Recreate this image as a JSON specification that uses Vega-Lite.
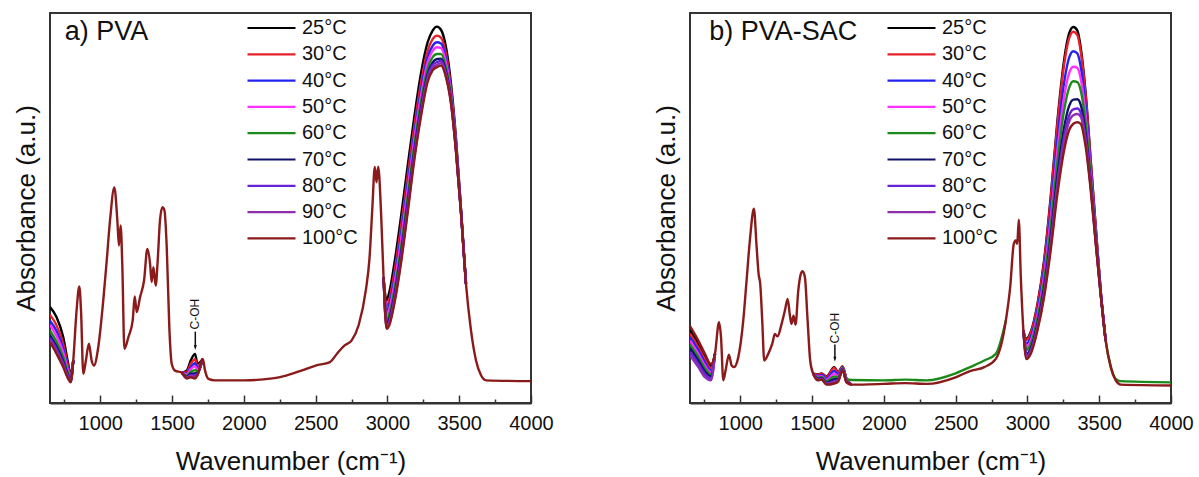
{
"$schema": "https://vega.github.io/schema/vega-lite/v6.json",
"background": "white",
"padding": {"left": 12, "top": 12, "right": 4, "bottom": 4},
"config": {
 "font": "Liberation Sans",
 "view": {"stroke": "#333333", "strokeWidth": 2},
 "concat": {"spacing": 97},
 "axis": {"labelFont": "Liberation Sans", "titleFont": "Liberation Sans", "labelFontSize": 20, "titleFontSize": 26, "titleFontWeight": "normal", "labelColor": "#111111", "titleColor": "#111111", "grid": false},
 "legend": {"labelFont": "Liberation Sans", "labelFontSize": 20, "labelColor": "#111111"}
},
"datasets": {
"a": [
{"t":25,"s":1,"w":650,"y":0.246},{"t":25,"s":1,"w":696,"y":0.220},{"t":25,"s":1,"w":742,"y":0.169},{"t":25,"s":1,"w":777,"y":0.100},{"t":25,"s":1,"w":794,"y":0.072},{"t":25,"s":1,"w":812,"y":0.109},
{"t":25,"s":2,"w":1567,"y":0.078},{"t":25,"s":2,"w":1602,"y":0.083},{"t":25,"s":2,"w":1630,"y":0.109},{"t":25,"s":2,"w":1660,"y":0.126},{"t":25,"s":2,"w":1677,"y":0.101},{"t":25,"s":2,"w":1714,"y":0.113},
{"t":25,"s":3,"w":2973,"y":0.323},{"t":25,"s":3,"w":2994,"y":0.263},{"t":25,"s":3,"w":3013,"y":0.284},{"t":25,"s":3,"w":3048,"y":0.357},{"t":25,"s":3,"w":3094,"y":0.476},{"t":25,"s":3,"w":3140,"y":0.605},{"t":25,"s":3,"w":3187,"y":0.733},{"t":25,"s":3,"w":3233,"y":0.844},{"t":25,"s":3,"w":3280,"y":0.925},{"t":25,"s":3,"w":3315,"y":0.955},{"t":25,"s":3,"w":3345,"y":0.965},{"t":25,"s":3,"w":3373,"y":0.957},{"t":25,"s":3,"w":3408,"y":0.912},{"t":25,"s":3,"w":3443,"y":0.818},{"t":25,"s":3,"w":3477,"y":0.682},{"t":25,"s":3,"w":3512,"y":0.500},{"t":25,"s":3,"w":3547,"y":0.306},
{"t":30,"s":1,"w":650,"y":0.226},{"t":30,"s":1,"w":696,"y":0.199},{"t":30,"s":1,"w":742,"y":0.152},{"t":30,"s":1,"w":777,"y":0.092},{"t":30,"s":1,"w":794,"y":0.068},{"t":30,"s":1,"w":812,"y":0.109},
{"t":30,"s":2,"w":1567,"y":0.078},{"t":30,"s":2,"w":1602,"y":0.079},{"t":30,"s":2,"w":1630,"y":0.100},{"t":30,"s":2,"w":1660,"y":0.112},{"t":30,"s":2,"w":1677,"y":0.094},{"t":30,"s":2,"w":1714,"y":0.113},
{"t":30,"s":3,"w":2973,"y":0.323},{"t":30,"s":3,"w":2994,"y":0.247},{"t":30,"s":3,"w":3013,"y":0.265},{"t":30,"s":3,"w":3048,"y":0.334},{"t":30,"s":3,"w":3094,"y":0.450},{"t":30,"s":3,"w":3140,"y":0.579},{"t":30,"s":3,"w":3187,"y":0.709},{"t":30,"s":3,"w":3233,"y":0.820},{"t":30,"s":3,"w":3280,"y":0.903},{"t":30,"s":3,"w":3315,"y":0.933},{"t":30,"s":3,"w":3345,"y":0.942},{"t":30,"s":3,"w":3373,"y":0.937},{"t":30,"s":3,"w":3408,"y":0.895},{"t":30,"s":3,"w":3443,"y":0.807},{"t":30,"s":3,"w":3477,"y":0.674},{"t":30,"s":3,"w":3512,"y":0.498},{"t":30,"s":3,"w":3547,"y":0.306},
{"t":40,"s":1,"w":650,"y":0.211},{"t":40,"s":1,"w":696,"y":0.184},{"t":40,"s":1,"w":742,"y":0.139},{"t":40,"s":1,"w":777,"y":0.085},{"t":40,"s":1,"w":794,"y":0.065},{"t":40,"s":1,"w":812,"y":0.109},
{"t":40,"s":2,"w":1567,"y":0.078},{"t":40,"s":2,"w":1602,"y":0.075},{"t":40,"s":2,"w":1630,"y":0.092},{"t":40,"s":2,"w":1660,"y":0.102},{"t":40,"s":2,"w":1677,"y":0.089},{"t":40,"s":2,"w":1714,"y":0.113},
{"t":40,"s":3,"w":2973,"y":0.323},{"t":40,"s":3,"w":2994,"y":0.235},{"t":40,"s":3,"w":3013,"y":0.251},{"t":40,"s":3,"w":3048,"y":0.317},{"t":40,"s":3,"w":3094,"y":0.430},{"t":40,"s":3,"w":3140,"y":0.559},{"t":40,"s":3,"w":3187,"y":0.690},{"t":40,"s":3,"w":3233,"y":0.801},{"t":40,"s":3,"w":3280,"y":0.886},{"t":40,"s":3,"w":3315,"y":0.916},{"t":40,"s":3,"w":3345,"y":0.925},{"t":40,"s":3,"w":3373,"y":0.922},{"t":40,"s":3,"w":3408,"y":0.882},{"t":40,"s":3,"w":3443,"y":0.798},{"t":40,"s":3,"w":3477,"y":0.669},{"t":40,"s":3,"w":3512,"y":0.496},{"t":40,"s":3,"w":3547,"y":0.306},
{"t":50,"s":1,"w":650,"y":0.200},{"t":50,"s":1,"w":696,"y":0.172},{"t":50,"s":1,"w":742,"y":0.130},{"t":50,"s":1,"w":777,"y":0.081},{"t":50,"s":1,"w":794,"y":0.062},{"t":50,"s":1,"w":812,"y":0.109},
{"t":50,"s":2,"w":1567,"y":0.078},{"t":50,"s":2,"w":1602,"y":0.073},{"t":50,"s":2,"w":1630,"y":0.087},{"t":50,"s":2,"w":1660,"y":0.094},{"t":50,"s":2,"w":1677,"y":0.086},{"t":50,"s":2,"w":1714,"y":0.113},
{"t":50,"s":3,"w":2973,"y":0.323},{"t":50,"s":3,"w":2994,"y":0.226},{"t":50,"s":3,"w":3013,"y":0.241},{"t":50,"s":3,"w":3048,"y":0.304},{"t":50,"s":3,"w":3094,"y":0.415},{"t":50,"s":3,"w":3140,"y":0.544},{"t":50,"s":3,"w":3187,"y":0.676},{"t":50,"s":3,"w":3233,"y":0.787},{"t":50,"s":3,"w":3280,"y":0.873},{"t":50,"s":3,"w":3315,"y":0.903},{"t":50,"s":3,"w":3345,"y":0.912},{"t":50,"s":3,"w":3373,"y":0.910},{"t":50,"s":3,"w":3408,"y":0.873},{"t":50,"s":3,"w":3443,"y":0.792},{"t":50,"s":3,"w":3477,"y":0.664},{"t":50,"s":3,"w":3512,"y":0.495},{"t":50,"s":3,"w":3547,"y":0.306},
{"t":60,"s":1,"w":650,"y":0.186},{"t":60,"s":1,"w":696,"y":0.157},{"t":60,"s":1,"w":742,"y":0.117},{"t":60,"s":1,"w":777,"y":0.075},{"t":60,"s":1,"w":794,"y":0.059},{"t":60,"s":1,"w":812,"y":0.109},
{"t":60,"s":2,"w":1567,"y":0.078},{"t":60,"s":2,"w":1602,"y":0.070},{"t":60,"s":2,"w":1630,"y":0.080},{"t":60,"s":2,"w":1660,"y":0.084},{"t":60,"s":2,"w":1677,"y":0.081},{"t":60,"s":2,"w":1714,"y":0.113},
{"t":60,"s":3,"w":2973,"y":0.323},{"t":60,"s":3,"w":2994,"y":0.214},{"t":60,"s":3,"w":3013,"y":0.227},{"t":60,"s":3,"w":3048,"y":0.288},{"t":60,"s":3,"w":3094,"y":0.396},{"t":60,"s":3,"w":3140,"y":0.525},{"t":60,"s":3,"w":3187,"y":0.659},{"t":60,"s":3,"w":3233,"y":0.770},{"t":60,"s":3,"w":3280,"y":0.857},{"t":60,"s":3,"w":3315,"y":0.887},{"t":60,"s":3,"w":3345,"y":0.895},{"t":60,"s":3,"w":3373,"y":0.895},{"t":60,"s":3,"w":3408,"y":0.860},{"t":60,"s":3,"w":3443,"y":0.784},{"t":60,"s":3,"w":3477,"y":0.659},{"t":60,"s":3,"w":3512,"y":0.493},{"t":60,"s":3,"w":3547,"y":0.306},
{"t":70,"s":1,"w":650,"y":0.174},{"t":70,"s":1,"w":696,"y":0.145},{"t":70,"s":1,"w":742,"y":0.107},{"t":70,"s":1,"w":777,"y":0.070},{"t":70,"s":1,"w":794,"y":0.057},{"t":70,"s":1,"w":812,"y":0.109},
{"t":70,"s":2,"w":1567,"y":0.078},{"t":70,"s":2,"w":1602,"y":0.067},{"t":70,"s":2,"w":1630,"y":0.075},{"t":70,"s":2,"w":1660,"y":0.076},{"t":70,"s":2,"w":1677,"y":0.077},{"t":70,"s":2,"w":1714,"y":0.113},
{"t":70,"s":3,"w":2973,"y":0.323},{"t":70,"s":3,"w":2994,"y":0.205},{"t":70,"s":3,"w":3013,"y":0.216},{"t":70,"s":3,"w":3048,"y":0.275},{"t":70,"s":3,"w":3094,"y":0.381},{"t":70,"s":3,"w":3140,"y":0.509},{"t":70,"s":3,"w":3187,"y":0.644},{"t":70,"s":3,"w":3233,"y":0.755},{"t":70,"s":3,"w":3280,"y":0.843},{"t":70,"s":3,"w":3315,"y":0.873},{"t":70,"s":3,"w":3345,"y":0.882},{"t":70,"s":3,"w":3373,"y":0.883},{"t":70,"s":3,"w":3408,"y":0.850},{"t":70,"s":3,"w":3443,"y":0.777},{"t":70,"s":3,"w":3477,"y":0.654},{"t":70,"s":3,"w":3512,"y":0.492},{"t":70,"s":3,"w":3547,"y":0.306},
{"t":80,"s":1,"w":650,"y":0.167},{"t":80,"s":1,"w":696,"y":0.138},{"t":80,"s":1,"w":742,"y":0.102},{"t":80,"s":1,"w":777,"y":0.067},{"t":80,"s":1,"w":794,"y":0.055},{"t":80,"s":1,"w":812,"y":0.109},
{"t":80,"s":2,"w":1567,"y":0.078},{"t":80,"s":2,"w":1602,"y":0.066},{"t":80,"s":2,"w":1630,"y":0.071},{"t":80,"s":2,"w":1660,"y":0.071},{"t":80,"s":2,"w":1677,"y":0.075},{"t":80,"s":2,"w":1714,"y":0.113},
{"t":80,"s":3,"w":2973,"y":0.323},{"t":80,"s":3,"w":2994,"y":0.199},{"t":80,"s":3,"w":3013,"y":0.210},{"t":80,"s":3,"w":3048,"y":0.267},{"t":80,"s":3,"w":3094,"y":0.372},{"t":80,"s":3,"w":3140,"y":0.500},{"t":80,"s":3,"w":3187,"y":0.636},{"t":80,"s":3,"w":3233,"y":0.747},{"t":80,"s":3,"w":3280,"y":0.836},{"t":80,"s":3,"w":3315,"y":0.866},{"t":80,"s":3,"w":3345,"y":0.874},{"t":80,"s":3,"w":3373,"y":0.877},{"t":80,"s":3,"w":3408,"y":0.845},{"t":80,"s":3,"w":3443,"y":0.773},{"t":80,"s":3,"w":3477,"y":0.651},{"t":80,"s":3,"w":3512,"y":0.491},{"t":80,"s":3,"w":3547,"y":0.306},
{"t":90,"s":1,"w":650,"y":0.161},{"t":90,"s":1,"w":696,"y":0.132},{"t":90,"s":1,"w":742,"y":0.097},{"t":90,"s":1,"w":777,"y":0.064},{"t":90,"s":1,"w":794,"y":0.054},{"t":90,"s":1,"w":812,"y":0.109},
{"t":90,"s":2,"w":1567,"y":0.078},{"t":90,"s":2,"w":1602,"y":0.064},{"t":90,"s":2,"w":1630,"y":0.069},{"t":90,"s":2,"w":1660,"y":0.067},{"t":90,"s":2,"w":1677,"y":0.073},{"t":90,"s":2,"w":1714,"y":0.113},
{"t":90,"s":3,"w":2973,"y":0.323},{"t":90,"s":3,"w":2994,"y":0.194},{"t":90,"s":3,"w":3013,"y":0.204},{"t":90,"s":3,"w":3048,"y":0.260},{"t":90,"s":3,"w":3094,"y":0.364},{"t":90,"s":3,"w":3140,"y":0.492},{"t":90,"s":3,"w":3187,"y":0.629},{"t":90,"s":3,"w":3233,"y":0.740},{"t":90,"s":3,"w":3280,"y":0.829},{"t":90,"s":3,"w":3315,"y":0.859},{"t":90,"s":3,"w":3345,"y":0.867},{"t":90,"s":3,"w":3373,"y":0.871},{"t":90,"s":3,"w":3408,"y":0.840},{"t":90,"s":3,"w":3443,"y":0.770},{"t":90,"s":3,"w":3477,"y":0.649},{"t":90,"s":3,"w":3512,"y":0.491},{"t":90,"s":3,"w":3547,"y":0.306},
{"t":100,"s":0,"w":650,"y":0.156},{"t":100,"s":0,"w":696,"y":0.126},{"t":100,"s":0,"w":742,"y":0.092},{"t":100,"s":0,"w":777,"y":0.062},{"t":100,"s":0,"w":794,"y":0.053},{"t":100,"s":0,"w":812,"y":0.109},{"t":100,"s":0,"w":835,"y":0.237},{"t":100,"s":0,"w":854,"y":0.299},{"t":100,"s":0,"w":866,"y":0.237},{"t":100,"s":0,"w":882,"y":0.075},{"t":100,"s":0,"w":900,"y":0.109},{"t":100,"s":0,"w":921,"y":0.152},{"t":100,"s":0,"w":940,"y":0.109},{"t":100,"s":0,"w":956,"y":0.096},{"t":100,"s":0,"w":986,"y":0.143},{"t":100,"s":0,"w":1021,"y":0.263},{"t":100,"s":0,"w":1045,"y":0.365},{"t":100,"s":0,"w":1068,"y":0.468},{"t":100,"s":0,"w":1098,"y":0.553},{"t":100,"s":0,"w":1119,"y":0.468},{"t":100,"s":0,"w":1130,"y":0.404},{"t":100,"s":0,"w":1142,"y":0.455},{"t":100,"s":0,"w":1154,"y":0.348},{"t":100,"s":0,"w":1168,"y":0.139},{"t":100,"s":0,"w":1196,"y":0.169},{"t":100,"s":0,"w":1226,"y":0.212},{"t":100,"s":0,"w":1240,"y":0.273},{"t":100,"s":0,"w":1254,"y":0.233},{"t":100,"s":0,"w":1277,"y":0.271},{"t":100,"s":0,"w":1305,"y":0.314},{"t":100,"s":0,"w":1328,"y":0.395},{"t":100,"s":0,"w":1347,"y":0.357},{"t":100,"s":0,"w":1358,"y":0.310},{"t":100,"s":0,"w":1370,"y":0.348},{"t":100,"s":0,"w":1386,"y":0.301},{"t":100,"s":0,"w":1400,"y":0.365},{"t":100,"s":0,"w":1416,"y":0.468},{"t":100,"s":0,"w":1433,"y":0.502},{"t":100,"s":0,"w":1447,"y":0.494},{"t":100,"s":0,"w":1463,"y":0.400},{"t":100,"s":0,"w":1481,"y":0.194},{"t":100,"s":0,"w":1498,"y":0.100},{"t":100,"s":0,"w":1521,"y":0.083},{"t":100,"s":0,"w":1567,"y":0.078},{"t":100,"s":0,"w":1602,"y":0.063},{"t":100,"s":0,"w":1630,"y":0.066},{"t":100,"s":0,"w":1660,"y":0.063},{"t":100,"s":0,"w":1677,"y":0.071},{"t":100,"s":0,"w":1714,"y":0.113},{"t":100,"s":0,"w":1730,"y":0.083},{"t":100,"s":0,"w":1753,"y":0.062},{"t":100,"s":0,"w":1800,"y":0.058},{"t":100,"s":0,"w":2000,"y":0.058},{"t":100,"s":0,"w":2200,"y":0.063},{"t":100,"s":0,"w":2300,"y":0.071},{"t":100,"s":0,"w":2400,"y":0.083},{"t":100,"s":0,"w":2500,"y":0.096},{"t":100,"s":0,"w":2600,"y":0.105},{"t":100,"s":0,"w":2650,"y":0.127},{"t":100,"s":0,"w":2700,"y":0.147},{"t":100,"s":0,"w":2750,"y":0.160},{"t":100,"s":0,"w":2800,"y":0.200},{"t":100,"s":0,"w":2850,"y":0.290},{"t":100,"s":0,"w":2875,"y":0.370},{"t":100,"s":0,"w":2895,"y":0.500},{"t":100,"s":0,"w":2912,"y":0.605},{"t":100,"s":0,"w":2924,"y":0.566},{"t":100,"s":0,"w":2936,"y":0.606},{"t":100,"s":0,"w":2955,"y":0.494},{"t":100,"s":0,"w":2973,"y":0.323},{"t":100,"s":0,"w":2994,"y":0.190},{"t":100,"s":0,"w":3013,"y":0.199},{"t":100,"s":0,"w":3048,"y":0.254},{"t":100,"s":0,"w":3094,"y":0.357},{"t":100,"s":0,"w":3140,"y":0.485},{"t":100,"s":0,"w":3187,"y":0.622},{"t":100,"s":0,"w":3233,"y":0.733},{"t":100,"s":0,"w":3280,"y":0.823},{"t":100,"s":0,"w":3315,"y":0.853},{"t":100,"s":0,"w":3345,"y":0.861},{"t":100,"s":0,"w":3373,"y":0.865},{"t":100,"s":0,"w":3408,"y":0.835},{"t":100,"s":0,"w":3443,"y":0.767},{"t":100,"s":0,"w":3477,"y":0.647},{"t":100,"s":0,"w":3512,"y":0.490},{"t":100,"s":0,"w":3547,"y":0.306},{"t":100,"s":0,"w":3582,"y":0.186},{"t":100,"s":0,"w":3617,"y":0.109},{"t":100,"s":0,"w":3652,"y":0.071},{"t":100,"s":0,"w":3687,"y":0.058},{"t":100,"s":0,"w":4000,"y":0.056}
],
"b": [
{"t":25,"s":1,"w":650,"y":0.188},{"t":25,"s":1,"w":708,"y":0.152},{"t":25,"s":1,"w":754,"y":0.119},{"t":25,"s":1,"w":796,"y":0.095},{"t":25,"s":1,"w":824,"y":0.126},
{"t":25,"s":2,"w":1508,"y":0.075},{"t":25,"s":2,"w":1543,"y":0.073},{"t":25,"s":2,"w":1566,"y":0.076},{"t":25,"s":2,"w":1601,"y":0.068},{"t":25,"s":2,"w":1654,"y":0.092},{"t":25,"s":2,"w":1682,"y":0.079},{"t":25,"s":2,"w":1712,"y":0.094},{"t":25,"s":2,"w":1740,"y":0.062},{"t":25,"s":2,"w":1775,"y":0.047},
{"t":25,"s":3,"w":2972,"y":0.186},{"t":25,"s":3,"w":2993,"y":0.165},{"t":25,"s":3,"w":3023,"y":0.182},{"t":25,"s":3,"w":3070,"y":0.254},{"t":25,"s":3,"w":3116,"y":0.365},{"t":25,"s":3,"w":3162,"y":0.528},{"t":25,"s":3,"w":3209,"y":0.724},{"t":25,"s":3,"w":3255,"y":0.878},{"t":25,"s":3,"w":3290,"y":0.947},{"t":25,"s":3,"w":3320,"y":0.964},{"t":25,"s":3,"w":3348,"y":0.955},{"t":25,"s":3,"w":3371,"y":0.912},{"t":25,"s":3,"w":3406,"y":0.793},{"t":25,"s":3,"w":3441,"y":0.622},{"t":25,"s":3,"w":3476,"y":0.451},{"t":25,"s":3,"w":3511,"y":0.285},{"t":25,"s":3,"w":3545,"y":0.160},
{"t":30,"s":1,"w":650,"y":0.178},{"t":30,"s":1,"w":708,"y":0.143},{"t":30,"s":1,"w":754,"y":0.111},{"t":30,"s":1,"w":796,"y":0.090},{"t":30,"s":1,"w":824,"y":0.126},
{"t":30,"s":2,"w":1508,"y":0.075},{"t":30,"s":2,"w":1543,"y":0.072},{"t":30,"s":2,"w":1566,"y":0.075},{"t":30,"s":2,"w":1601,"y":0.067},{"t":30,"s":2,"w":1654,"y":0.090},{"t":30,"s":2,"w":1682,"y":0.078},{"t":30,"s":2,"w":1712,"y":0.094},{"t":30,"s":2,"w":1740,"y":0.062},{"t":30,"s":2,"w":1775,"y":0.047},
{"t":30,"s":3,"w":2972,"y":0.186},{"t":30,"s":3,"w":2993,"y":0.162},{"t":30,"s":3,"w":3023,"y":0.179},{"t":30,"s":3,"w":3070,"y":0.251},{"t":30,"s":3,"w":3116,"y":0.360},{"t":30,"s":3,"w":3162,"y":0.521},{"t":30,"s":3,"w":3209,"y":0.715},{"t":30,"s":3,"w":3255,"y":0.866},{"t":30,"s":3,"w":3290,"y":0.935},{"t":30,"s":3,"w":3320,"y":0.952},{"t":30,"s":3,"w":3348,"y":0.943},{"t":30,"s":3,"w":3371,"y":0.902},{"t":30,"s":3,"w":3406,"y":0.786},{"t":30,"s":3,"w":3441,"y":0.618},{"t":30,"s":3,"w":3476,"y":0.449},{"t":30,"s":3,"w":3511,"y":0.285},{"t":30,"s":3,"w":3545,"y":0.160},
{"t":40,"s":1,"w":650,"y":0.169},{"t":40,"s":1,"w":708,"y":0.135},{"t":40,"s":1,"w":754,"y":0.104},{"t":40,"s":1,"w":796,"y":0.084},{"t":40,"s":1,"w":824,"y":0.126},
{"t":40,"s":2,"w":1508,"y":0.075},{"t":40,"s":2,"w":1543,"y":0.069},{"t":40,"s":2,"w":1566,"y":0.072},{"t":40,"s":2,"w":1601,"y":0.063},{"t":40,"s":2,"w":1654,"y":0.082},{"t":40,"s":2,"w":1682,"y":0.073},{"t":40,"s":2,"w":1712,"y":0.092},{"t":40,"s":2,"w":1740,"y":0.060},{"t":40,"s":2,"w":1775,"y":0.047},
{"t":40,"s":3,"w":2972,"y":0.186},{"t":40,"s":3,"w":2993,"y":0.152},{"t":40,"s":3,"w":3023,"y":0.168},{"t":40,"s":3,"w":3070,"y":0.237},{"t":40,"s":3,"w":3116,"y":0.342},{"t":40,"s":3,"w":3162,"y":0.494},{"t":40,"s":3,"w":3209,"y":0.677},{"t":40,"s":3,"w":3255,"y":0.820},{"t":40,"s":3,"w":3290,"y":0.885},{"t":40,"s":3,"w":3320,"y":0.902},{"t":40,"s":3,"w":3348,"y":0.896},{"t":40,"s":3,"w":3371,"y":0.863},{"t":40,"s":3,"w":3406,"y":0.759},{"t":40,"s":3,"w":3441,"y":0.603},{"t":40,"s":3,"w":3476,"y":0.440},{"t":40,"s":3,"w":3511,"y":0.283},{"t":40,"s":3,"w":3545,"y":0.160},
{"t":50,"s":1,"w":650,"y":0.160},{"t":50,"s":1,"w":708,"y":0.126},{"t":50,"s":1,"w":754,"y":0.096},{"t":50,"s":1,"w":796,"y":0.079},{"t":50,"s":1,"w":824,"y":0.126},
{"t":50,"s":2,"w":1508,"y":0.075},{"t":50,"s":2,"w":1543,"y":0.067},{"t":50,"s":2,"w":1566,"y":0.069},{"t":50,"s":2,"w":1601,"y":0.059},{"t":50,"s":2,"w":1654,"y":0.075},{"t":50,"s":2,"w":1682,"y":0.069},{"t":50,"s":2,"w":1712,"y":0.090},{"t":50,"s":2,"w":1740,"y":0.058},{"t":50,"s":2,"w":1775,"y":0.047},
{"t":50,"s":3,"w":2972,"y":0.186},{"t":50,"s":3,"w":2993,"y":0.144},{"t":50,"s":3,"w":3023,"y":0.159},{"t":50,"s":3,"w":3070,"y":0.226},{"t":50,"s":3,"w":3116,"y":0.326},{"t":50,"s":3,"w":3162,"y":0.472},{"t":50,"s":3,"w":3209,"y":0.647},{"t":50,"s":3,"w":3255,"y":0.783},{"t":50,"s":3,"w":3290,"y":0.845},{"t":50,"s":3,"w":3320,"y":0.862},{"t":50,"s":3,"w":3348,"y":0.859},{"t":50,"s":3,"w":3371,"y":0.832},{"t":50,"s":3,"w":3406,"y":0.737},{"t":50,"s":3,"w":3441,"y":0.590},{"t":50,"s":3,"w":3476,"y":0.433},{"t":50,"s":3,"w":3511,"y":0.281},{"t":50,"s":3,"w":3545,"y":0.160},
{"t":60,"s":1,"w":650,"y":0.150},{"t":60,"s":1,"w":708,"y":0.118},{"t":60,"s":1,"w":754,"y":0.089},{"t":60,"s":1,"w":796,"y":0.074},{"t":60,"s":1,"w":824,"y":0.126},
{"t":60,"s":2,"w":1508,"y":0.075},{"t":60,"s":2,"w":1543,"y":0.065},{"t":60,"s":2,"w":1566,"y":0.067},{"t":60,"s":2,"w":1601,"y":0.056},{"t":60,"s":2,"w":1654,"y":0.068},{"t":60,"s":2,"w":1682,"y":0.066},{"t":60,"s":2,"w":1712,"y":0.089},{"t":60,"s":2,"w":1740,"y":0.062},{"t":60,"s":2,"w":1775,"y":0.059},{"t":60,"s":2,"w":2000,"y":0.058},{"t":60,"s":2,"w":2150,"y":0.060},{"t":60,"s":2,"w":2300,"y":0.058},{"t":60,"s":2,"w":2500,"y":0.076},{"t":60,"s":2,"w":2600,"y":0.092},{"t":60,"s":2,"w":2700,"y":0.109},{"t":60,"s":2,"w":2780,"y":0.126},{"t":60,"s":2,"w":2850,"y":0.212},
{"t":60,"s":3,"w":2972,"y":0.186},{"t":60,"s":3,"w":2993,"y":0.136},{"t":60,"s":3,"w":3023,"y":0.151},{"t":60,"s":3,"w":3070,"y":0.216},{"t":60,"s":3,"w":3116,"y":0.312},{"t":60,"s":3,"w":3162,"y":0.451},{"t":60,"s":3,"w":3209,"y":0.619},{"t":60,"s":3,"w":3255,"y":0.749},{"t":60,"s":3,"w":3290,"y":0.808},{"t":60,"s":3,"w":3320,"y":0.825},{"t":60,"s":3,"w":3348,"y":0.823},{"t":60,"s":3,"w":3371,"y":0.802},{"t":60,"s":3,"w":3406,"y":0.716},{"t":60,"s":3,"w":3441,"y":0.579},{"t":60,"s":3,"w":3476,"y":0.427},{"t":60,"s":3,"w":3511,"y":0.279},{"t":60,"s":3,"w":3545,"y":0.160},{"t":60,"s":3,"w":3580,"y":0.095},{"t":60,"s":3,"w":3615,"y":0.062},{"t":60,"s":3,"w":3650,"y":0.056},{"t":60,"s":3,"w":4000,"y":0.053},
{"t":70,"s":1,"w":650,"y":0.141},{"t":70,"s":1,"w":708,"y":0.109},{"t":70,"s":1,"w":754,"y":0.081},{"t":70,"s":1,"w":796,"y":0.069},{"t":70,"s":1,"w":824,"y":0.126},
{"t":70,"s":2,"w":1508,"y":0.075},{"t":70,"s":2,"w":1543,"y":0.062},{"t":70,"s":2,"w":1566,"y":0.064},{"t":70,"s":2,"w":1601,"y":0.052},{"t":70,"s":2,"w":1654,"y":0.061},{"t":70,"s":2,"w":1682,"y":0.061},{"t":70,"s":2,"w":1712,"y":0.087},{"t":70,"s":2,"w":1740,"y":0.055},{"t":70,"s":2,"w":1775,"y":0.047},
{"t":70,"s":3,"w":2972,"y":0.186},{"t":70,"s":3,"w":2993,"y":0.126},{"t":70,"s":3,"w":3023,"y":0.140},{"t":70,"s":3,"w":3070,"y":0.203},{"t":70,"s":3,"w":3116,"y":0.295},{"t":70,"s":3,"w":3162,"y":0.425},{"t":70,"s":3,"w":3209,"y":0.583},{"t":70,"s":3,"w":3255,"y":0.705},{"t":70,"s":3,"w":3290,"y":0.761},{"t":70,"s":3,"w":3320,"y":0.778},{"t":70,"s":3,"w":3348,"y":0.779},{"t":70,"s":3,"w":3371,"y":0.765},{"t":70,"s":3,"w":3406,"y":0.690},{"t":70,"s":3,"w":3441,"y":0.564},{"t":70,"s":3,"w":3476,"y":0.419},{"t":70,"s":3,"w":3511,"y":0.278},{"t":70,"s":3,"w":3545,"y":0.160},
{"t":80,"s":1,"w":650,"y":0.131},{"t":80,"s":1,"w":708,"y":0.101},{"t":80,"s":1,"w":754,"y":0.074},{"t":80,"s":1,"w":796,"y":0.063},{"t":80,"s":1,"w":824,"y":0.126},
{"t":80,"s":2,"w":1508,"y":0.075},{"t":80,"s":2,"w":1543,"y":0.060},{"t":80,"s":2,"w":1566,"y":0.062},{"t":80,"s":2,"w":1601,"y":0.050},{"t":80,"s":2,"w":1654,"y":0.056},{"t":80,"s":2,"w":1682,"y":0.059},{"t":80,"s":2,"w":1712,"y":0.086},{"t":80,"s":2,"w":1740,"y":0.054},{"t":80,"s":2,"w":1775,"y":0.047},
{"t":80,"s":3,"w":2972,"y":0.186},{"t":80,"s":3,"w":2993,"y":0.121},{"t":80,"s":3,"w":3023,"y":0.134},{"t":80,"s":3,"w":3070,"y":0.196},{"t":80,"s":3,"w":3116,"y":0.285},{"t":80,"s":3,"w":3162,"y":0.412},{"t":80,"s":3,"w":3209,"y":0.564},{"t":80,"s":3,"w":3255,"y":0.682},{"t":80,"s":3,"w":3290,"y":0.736},{"t":80,"s":3,"w":3320,"y":0.753},{"t":80,"s":3,"w":3348,"y":0.755},{"t":80,"s":3,"w":3371,"y":0.745},{"t":80,"s":3,"w":3406,"y":0.677},{"t":80,"s":3,"w":3441,"y":0.557},{"t":80,"s":3,"w":3476,"y":0.414},{"t":80,"s":3,"w":3511,"y":0.277},{"t":80,"s":3,"w":3545,"y":0.160},
{"t":90,"s":1,"w":650,"y":0.122},{"t":90,"s":1,"w":708,"y":0.092},{"t":90,"s":1,"w":754,"y":0.066},{"t":90,"s":1,"w":796,"y":0.058},{"t":90,"s":1,"w":824,"y":0.126},
{"t":90,"s":2,"w":1508,"y":0.075},{"t":90,"s":2,"w":1543,"y":0.059},{"t":90,"s":2,"w":1566,"y":0.061},{"t":90,"s":2,"w":1601,"y":0.049},{"t":90,"s":2,"w":1654,"y":0.054},{"t":90,"s":2,"w":1682,"y":0.057},{"t":90,"s":2,"w":1712,"y":0.086},{"t":90,"s":2,"w":1740,"y":0.054},{"t":90,"s":2,"w":1775,"y":0.047},
{"t":90,"s":3,"w":2972,"y":0.186},{"t":90,"s":3,"w":2993,"y":0.118},{"t":90,"s":3,"w":3023,"y":0.131},{"t":90,"s":3,"w":3070,"y":0.192},{"t":90,"s":3,"w":3116,"y":0.279},{"t":90,"s":3,"w":3162,"y":0.403},{"t":90,"s":3,"w":3209,"y":0.553},{"t":90,"s":3,"w":3255,"y":0.668},{"t":90,"s":3,"w":3290,"y":0.721},{"t":90,"s":3,"w":3320,"y":0.738},{"t":90,"s":3,"w":3348,"y":0.741},{"t":90,"s":3,"w":3371,"y":0.734},{"t":90,"s":3,"w":3406,"y":0.668},{"t":90,"s":3,"w":3441,"y":0.552},{"t":90,"s":3,"w":3476,"y":0.412},{"t":90,"s":3,"w":3511,"y":0.276},{"t":90,"s":3,"w":3545,"y":0.160},
{"t":100,"s":0,"w":650,"y":0.197},{"t":100,"s":0,"w":708,"y":0.160},{"t":100,"s":0,"w":754,"y":0.126},{"t":100,"s":0,"w":796,"y":0.100},{"t":100,"s":0,"w":824,"y":0.126},{"t":100,"s":0,"w":852,"y":0.207},{"t":100,"s":0,"w":866,"y":0.169},{"t":100,"s":0,"w":882,"y":0.058},{"t":100,"s":0,"w":900,"y":0.088},{"t":100,"s":0,"w":921,"y":0.124},{"t":100,"s":0,"w":940,"y":0.096},{"t":100,"s":0,"w":956,"y":0.092},{"t":100,"s":0,"w":986,"y":0.117},{"t":100,"s":0,"w":1021,"y":0.212},{"t":100,"s":0,"w":1044,"y":0.314},{"t":100,"s":0,"w":1067,"y":0.417},{"t":100,"s":0,"w":1095,"y":0.498},{"t":100,"s":0,"w":1114,"y":0.400},{"t":100,"s":0,"w":1128,"y":0.330},{"t":100,"s":0,"w":1139,"y":0.306},{"t":100,"s":0,"w":1153,"y":0.212},{"t":100,"s":0,"w":1167,"y":0.109},{"t":100,"s":0,"w":1195,"y":0.126},{"t":100,"s":0,"w":1223,"y":0.152},{"t":100,"s":0,"w":1241,"y":0.177},{"t":100,"s":0,"w":1260,"y":0.171},{"t":100,"s":0,"w":1288,"y":0.203},{"t":100,"s":0,"w":1311,"y":0.237},{"t":100,"s":0,"w":1330,"y":0.267},{"t":100,"s":0,"w":1346,"y":0.224},{"t":100,"s":0,"w":1357,"y":0.203},{"t":100,"s":0,"w":1371,"y":0.224},{"t":100,"s":0,"w":1385,"y":0.201},{"t":100,"s":0,"w":1404,"y":0.288},{"t":100,"s":0,"w":1422,"y":0.331},{"t":100,"s":0,"w":1434,"y":0.338},{"t":100,"s":0,"w":1450,"y":0.323},{"t":100,"s":0,"w":1469,"y":0.212},{"t":100,"s":0,"w":1487,"y":0.109},{"t":100,"s":0,"w":1508,"y":0.075},{"t":100,"s":0,"w":1543,"y":0.058},{"t":100,"s":0,"w":1566,"y":0.060},{"t":100,"s":0,"w":1601,"y":0.047},{"t":100,"s":0,"w":1654,"y":0.050},{"t":100,"s":0,"w":1682,"y":0.055},{"t":100,"s":0,"w":1712,"y":0.085},{"t":100,"s":0,"w":1740,"y":0.053},{"t":100,"s":0,"w":1775,"y":0.047},{"t":100,"s":0,"w":2000,"y":0.049},{"t":100,"s":0,"w":2150,"y":0.051},{"t":100,"s":0,"w":2300,"y":0.049},{"t":100,"s":0,"w":2500,"y":0.066},{"t":100,"s":0,"w":2600,"y":0.082},{"t":100,"s":0,"w":2700,"y":0.092},{"t":100,"s":0,"w":2780,"y":0.113},{"t":100,"s":0,"w":2850,"y":0.212},{"t":100,"s":0,"w":2880,"y":0.297},{"t":100,"s":0,"w":2905,"y":0.408},{"t":100,"s":0,"w":2919,"y":0.417},{"t":100,"s":0,"w":2929,"y":0.408},{"t":100,"s":0,"w":2940,"y":0.470},{"t":100,"s":0,"w":2954,"y":0.323},{"t":100,"s":0,"w":2972,"y":0.186},{"t":100,"s":0,"w":2993,"y":0.113},{"t":100,"s":0,"w":3023,"y":0.126},{"t":100,"s":0,"w":3070,"y":0.186},{"t":100,"s":0,"w":3116,"y":0.271},{"t":100,"s":0,"w":3162,"y":0.391},{"t":100,"s":0,"w":3209,"y":0.536},{"t":100,"s":0,"w":3255,"y":0.647},{"t":100,"s":0,"w":3290,"y":0.699},{"t":100,"s":0,"w":3320,"y":0.716},{"t":100,"s":0,"w":3348,"y":0.720},{"t":100,"s":0,"w":3371,"y":0.716},{"t":100,"s":0,"w":3406,"y":0.656},{"t":100,"s":0,"w":3441,"y":0.545},{"t":100,"s":0,"w":3476,"y":0.408},{"t":100,"s":0,"w":3511,"y":0.275},{"t":100,"s":0,"w":3545,"y":0.160},{"t":100,"s":0,"w":3580,"y":0.092},{"t":100,"s":0,"w":3615,"y":0.058},{"t":100,"s":0,"w":3650,"y":0.047},{"t":100,"s":0,"w":4000,"y":0.045}
]
},
"resolve": {"scale": {"color": "independent"}, "legend": {"color": "independent"}},
"hconcat": [
{
 "width": 481, "height": 390,
 "encoding": {
  "x": {"field": "w", "type": "quantitative", "scale": {"domain": [650, 4000], "nice": false, "zero": false},
   "axis": {"title": "Wavenumber (cm⁻¹)", "values": [750,1000,1250,1500,1750,2000,2250,2500,2750,3000,3250,3500,3750,4000], "labelExpr": "datum.value % 500 === 0 ? format(datum.value, 'd') : ''", "tickSize": {"condition": {"test": "datum.value % 500 === 0", "value": -8}, "value": -4}, "tickWidth": 1.5, "tickColor": "#333333", "domainColor": "#333333", "domainWidth": 2, "labelFlush": false, "labelOverlap": false, "labelPadding": 18, "titlePadding": 11}},
  "y": {"field": "y", "type": "quantitative", "scale": {"domain": [0, 1], "nice": false},
   "axis": {"title": "Absorbance (a.u.)", "labels": false, "ticks": false, "domain": false, "titlePadding": 11}}
 },
 "layer": [
  {"data": {"name": "a"}, "mark": {"type": "line", "strokeWidth": 2.4, "strokeJoin": "round", "interpolate": "monotone", "clip": true},
   "encoding": {
    "color": {"field": "t", "type": "nominal", "scale": {"domain": [25,30,40,50,60,70,80,90,100], "range": ["#000000","#e8202a","#2424f0","#ff30ff","#1a8a1a","#12126a","#6a22d8","#8e2fb0","#8b1a1a"]},
     "legend": {"title": null, "orient": "none", "legendX": 196, "legendY": 4, "symbolType": "stroke", "symbolSize": 2304, "symbolStrokeWidth": 2.2, "clipHeight": 22, "rowPadding": 4.3, "labelOffset": 5, "padding": 0, "labelExpr": "datum.label + '°C'"}},
    "detail": {"field": "s"}
   }},
  {"data": {"values": [{"w": 752, "y": 0.932, "label": "a) PVA"}]}, "mark": {"type": "text", "align": "left", "baseline": "alphabetic", "fontSize": 27, "font": "Liberation Sans", "color": "#111111"},
   "encoding": {"text": {"field": "label"}}},
  {"data": {"values": [{"w": 1662, "y": 0.228, "label": "C-OH"}]}, "mark": {"type": "text", "align": "center", "baseline": "middle", "angle": 270, "fontSize": 12, "font": "Liberation Sans", "color": "#111111"},
   "encoding": {"text": {"field": "label"}}},
  {"data": {"values": [{"w": 1662, "y": 0.183, "y2": 0.142}]}, "mark": {"type": "rule", "color": "#111111", "strokeWidth": 1.5},
   "encoding": {"y2": {"field": "y2"}}},
  {"data": {"values": [{"w": 1662, "y": 0.142}]}, "mark": {"type": "point", "shape": "M-0.3,-0.5L0.3,-0.5L0,0.5Z", "size": 100, "filled": true, "color": "#111111", "opacity": 1},
   "encoding": {}}
 ]
},
{
 "width": 481, "height": 390,
 "encoding": {
  "x": {"field": "w", "type": "quantitative", "scale": {"domain": [650, 4000], "nice": false, "zero": false},
   "axis": {"title": "Wavenumber (cm⁻¹)", "values": [750,1000,1250,1500,1750,2000,2250,2500,2750,3000,3250,3500,3750,4000], "labelExpr": "datum.value % 500 === 0 ? format(datum.value, 'd') : ''", "tickSize": {"condition": {"test": "datum.value % 500 === 0", "value": -8}, "value": -4}, "tickWidth": 1.5, "tickColor": "#333333", "domainColor": "#333333", "domainWidth": 2, "labelFlush": false, "labelOverlap": false, "labelPadding": 18, "titlePadding": 11}},
  "y": {"field": "y", "type": "quantitative", "scale": {"domain": [0, 1], "nice": false},
   "axis": {"title": "Absorbance (a.u.)", "labels": false, "ticks": false, "domain": false, "titlePadding": 11}}
 },
 "layer": [
  {"data": {"name": "b"}, "mark": {"type": "line", "strokeWidth": 2.4, "strokeJoin": "round", "interpolate": "monotone", "clip": true},
   "encoding": {
    "color": {"field": "t", "type": "nominal", "scale": {"domain": [25,30,40,50,60,70,80,90,100], "range": ["#000000","#e8202a","#2424f0","#ff30ff","#1a8a1a","#12126a","#6a22d8","#8e2fb0","#8b1a1a"]},
     "legend": {"title": null, "orient": "none", "legendX": 196, "legendY": 4, "symbolType": "stroke", "symbolSize": 2304, "symbolStrokeWidth": 2.2, "clipHeight": 22, "rowPadding": 4.3, "labelOffset": 5, "padding": 0, "labelExpr": "datum.label + '°C'"}},
    "detail": {"field": "s"}
   }},
  {"data": {"values": [{"w": 784, "y": 0.932, "label": "b) PVA-SAC"}]}, "mark": {"type": "text", "align": "left", "baseline": "alphabetic", "fontSize": 27, "font": "Liberation Sans", "color": "#111111"},
   "encoding": {"text": {"field": "label"}}},
  {"data": {"values": [{"w": 1659, "y": 0.192, "label": "C-OH"}]}, "mark": {"type": "text", "align": "center", "baseline": "middle", "angle": 270, "fontSize": 12, "font": "Liberation Sans", "color": "#111111"},
   "encoding": {"text": {"field": "label"}}},
  {"data": {"values": [{"w": 1659, "y": 0.150, "y2": 0.112}]}, "mark": {"type": "rule", "color": "#111111", "strokeWidth": 1.5},
   "encoding": {"y2": {"field": "y2"}}},
  {"data": {"values": [{"w": 1659, "y": 0.112}]}, "mark": {"type": "point", "shape": "M-0.3,-0.5L0.3,-0.5L0,0.5Z", "size": 100, "filled": true, "color": "#111111", "opacity": 1},
   "encoding": {}}
 ]
}
]
}
